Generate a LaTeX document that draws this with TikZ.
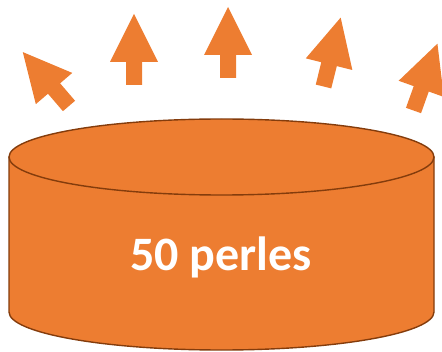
\documentclass[tikz,border=0pt]{standalone}
\usepackage{fontspec}
\setmainfont{Carlito}
\definecolor{orfill}{HTML}{ED7D31}
\definecolor{oredge}{HTML}{843C0C}
\tikzset{
  blockarrow/.style={fill=orfill, draw=none},
  cyl/.style={fill=orfill, draw=oredge, line width=1.4pt, line join=round},
  label/.style={text=white, font=\bfseries\fontsize{48}{52}\selectfont, inner sep=0pt}
}
\begin{document}
\begin{tikzpicture}[x=1pt,y=1pt]
\useasboundingbox (0,0) rectangle (442,351);
% arrows
\foreach \px/\py/\rot in {69/245/40.6, 134/266/0, 228/273/0, 323.5/264.5/-14, 413.5/240.5/-19.7}{
  \fill[blockarrow, shift={(\px,\py)}, rotate=\rot]
    (-8,0) -- (8,0) -- (8,23) -- (24,23) -- (0,71) -- (-24,23) -- (-8,23) -- cycle;
}
% cylinder
\draw[cyl] (9,194) -- (9,39) arc[start angle=180, end angle=360, x radius=212.5, y radius=38] -- (434,194) -- cycle;
\draw[cyl] (221.5,194) ellipse[x radius=212.5, y radius=38];
\node[label, anchor=base] (txt) at (221,80) {50 perles};
\end{tikzpicture}
\end{document}
